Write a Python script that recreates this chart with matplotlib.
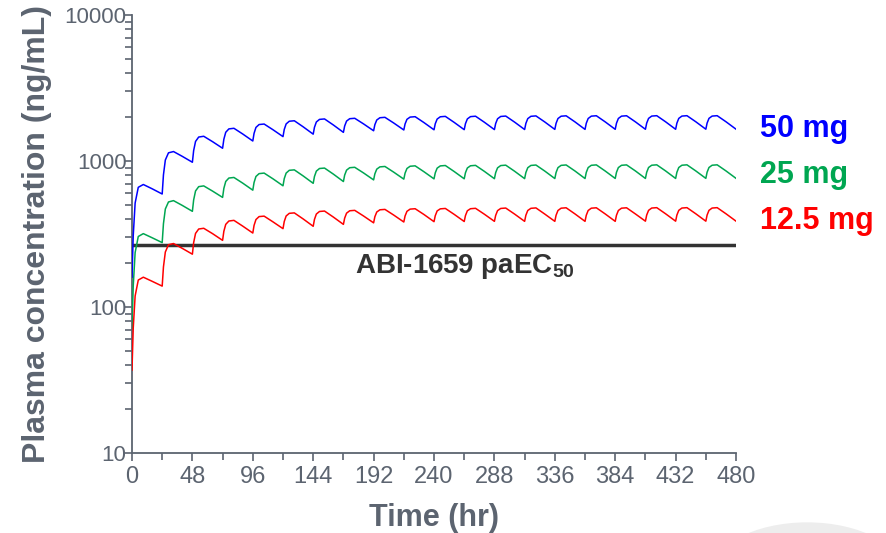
import matplotlib
matplotlib.use("Agg")
import matplotlib.pyplot as plt
from matplotlib.patches import Ellipse
from matplotlib.ticker import FixedLocator, NullFormatter

plt.rcParams["mathtext.fontset"] = "custom"
plt.rcParams["mathtext.bf"] = "Liberation Sans:bold"
plt.rcParams["mathtext.rm"] = "Liberation Sans"

# dosing every 24 hr; within each interval values read at these hours after the dose
dose_times = list(range(0, 480, 24))
offsets = [0, 1, 2.5, 5, 9, 16]
t_end = 480

# ng/mL, one row per dosing interval
conc_50 = [
    [160, 309, 515, 660, 690, 645],
    [594, 803, 1015, 1137, 1160, 1075],
    [980, 1178, 1360, 1458, 1476, 1356],
    [1222, 1408, 1572, 1658, 1674, 1530],
    [1370, 1545, 1697, 1776, 1790, 1637],
    [1468, 1643, 1793, 1871, 1885, 1714],
    [1526, 1700, 1849, 1926, 1940, 1764],
    [1570, 1735, 1875, 1947, 1960, 1794],
    [1610, 1771, 1907, 1977, 1990, 1819],
    [1630, 1791, 1928, 1997, 2010, 1832],
    [1635, 1798, 1936, 2007, 2020, 1838],
    [1638, 1801, 1940, 2012, 2025, 1842],
    [1640, 1805, 1944, 2017, 2030, 1846],
    [1642, 1808, 1949, 2022, 2035, 1850],
    [1645, 1811, 1952, 2025, 2038, 1852],
    [1645, 1812, 1953, 2027, 2040, 1853],
    [1647, 1813, 1954, 2027, 2040, 1854],
    [1648, 1815, 1956, 2029, 2042, 1855],
    [1648, 1815, 1956, 2029, 2042, 1856],
    [1650, 1816, 1957, 2029, 2042, 1856],
]
end_50 = 1650

conc_25 = [
    [72, 140, 236, 304, 318, 298],
    [276, 372, 469, 524, 535, 496],
    [452, 541, 623, 667, 675, 622],
    [563, 649, 724, 764, 771, 705],
    [631, 712, 783, 819, 826, 755],
    [676, 757, 826, 863, 869, 790],
    [703, 783, 852, 888, 894, 813],
    [723, 800, 865, 899, 905, 828],
    [742, 816, 879, 911, 917, 838],
    [751, 825, 888, 920, 926, 844],
    [754, 829, 893, 925, 931, 847],
    [755, 831, 895, 927, 933, 849],
    [756, 832, 897, 930, 936, 851],
    [757, 833, 899, 932, 938, 853],
    [758, 834, 900, 933, 939, 854],
    [758, 835, 901, 934, 940, 854],
    [759, 836, 901, 934, 940, 855],
    [759, 836, 902, 935, 941, 855],
    [759, 836, 902, 935, 941, 855],
    [760, 837, 902, 935, 941, 855],
]
end_25 = 760

conc_12 = [
    [37, 72, 119, 153, 160, 150],
    [139, 188, 238, 267, 272, 252],
    [230, 276, 319, 342, 346, 318],
    [286, 330, 368, 388, 392, 358],
    [321, 362, 397, 416, 419, 383],
    [344, 385, 420, 438, 441, 401],
    [357, 398, 433, 451, 454, 413],
    [368, 406, 439, 456, 459, 420],
    [377, 415, 447, 463, 466, 426],
    [382, 420, 452, 468, 471, 430],
    [384, 422, 455, 470, 473, 431],
    [385, 423, 456, 471, 474, 432],
    [386, 424, 457, 473, 476, 433],
    [386, 425, 458, 474, 477, 433],
    [386, 425, 458, 475, 478, 434],
    [386, 425, 458, 475, 478, 434],
    [386, 425, 458, 475, 478, 434],
    [387, 426, 459, 476, 479, 435],
    [387, 426, 459, 476, 479, 435],
    [387, 426, 459, 476, 479, 435],
]
end_12 = 387

paec50 = 264
labels = ["50 mg", "25 mg", "12.5 mg"]
label_y = [1650, 800, 390]

axis_grey = "#5c6470"
blue = "#0000ff"
green = "#00a651"
red = "#ff0000"
sans = ["Liberation Sans", "DejaVu Sans"]


def flatten(rows, last):
    xs, ys = [], []
    for d, row in zip(dose_times, rows):
        for o, v in zip(offsets, row):
            xs.append(d + o)
            ys.append(v)
    xs.append(t_end)
    ys.append(last)
    return xs, ys


fig = plt.figure(figsize=(8.87, 5.33), dpi=100)
ax = fig.add_axes([0.1488, 0.150, 0.681, 0.822])

for rows, last, col in [(conc_50, end_50, blue), (conc_25, end_25, green), (conc_12, end_12, red)]:
    x, y = flatten(rows, last)
    ax.plot(x, y, color=col, lw=1.1, zorder=3, solid_joinstyle="round")

ax.plot([0, t_end], [paec50, paec50], color="#333333", lw=2.5, zorder=2)

ax.set_yscale("log")
ax.set_ylim(10, 10000)
ax.set_xlim(0, 480)

ax.set_xticks(range(0, 481, 48))
ax.xaxis.set_minor_locator(FixedLocator(range(24, 480, 48)))
ax.set_yticks([10, 100, 1000, 10000])
ax.set_yticklabels(["10", "100", "1000", "10000"])
ax.yaxis.set_minor_formatter(NullFormatter())

for s in ["top", "right"]:
    ax.spines[s].set_visible(False)
for s in ["left", "bottom"]:
    ax.spines[s].set_color(axis_grey)
    ax.spines[s].set_linewidth(1.3)

ax.tick_params(axis="both", which="both", color=axis_grey, width=1.2, direction="out")
ax.tick_params(axis="both", which="major", length=6, labelcolor=axis_grey)
ax.tick_params(axis="both", which="minor", length=5)
ax.tick_params(axis="y", which="major", pad=-2)
ax.tick_params(axis="x", which="major", pad=3)
for lab in ax.get_yticklabels():
    lab.set_family(sans)
    lab.set_fontsize(16)
for lab in ax.get_xticklabels():
    lab.set_family(["Liberation Sans Narrow"] + sans)
    lab.set_fontsize(17)

ax.set_xlabel("Time (hr)", fontsize=22, fontweight="bold", color=axis_grey,
              family=sans, labelpad=11)
ax.set_ylabel("Plasma concentration (ng/mL)", fontsize=23, fontweight="bold", color=axis_grey,
              family=sans, labelpad=9)

ax.text(265, 188, r"ABI-1659 paEC$_{\mathbf{50}}$", ha="center", va="center", fontsize=20,
        fontweight="bold", color="#333333", family=sans)

for lab, yv, col in zip(labels, label_y, [blue, green, red]):
    ax.text(499, yv, lab, ha="left", va="center", fontsize=22, fontweight="bold",
            color=col, clip_on=False, family=sans)

fig.patches.append(Ellipse((0.91, -0.08), 0.22, 0.2, transform=fig.transFigure,
                           facecolor="#ededed", edgecolor="none", zorder=0))

fig.savefig("out.png", dpi=100)
